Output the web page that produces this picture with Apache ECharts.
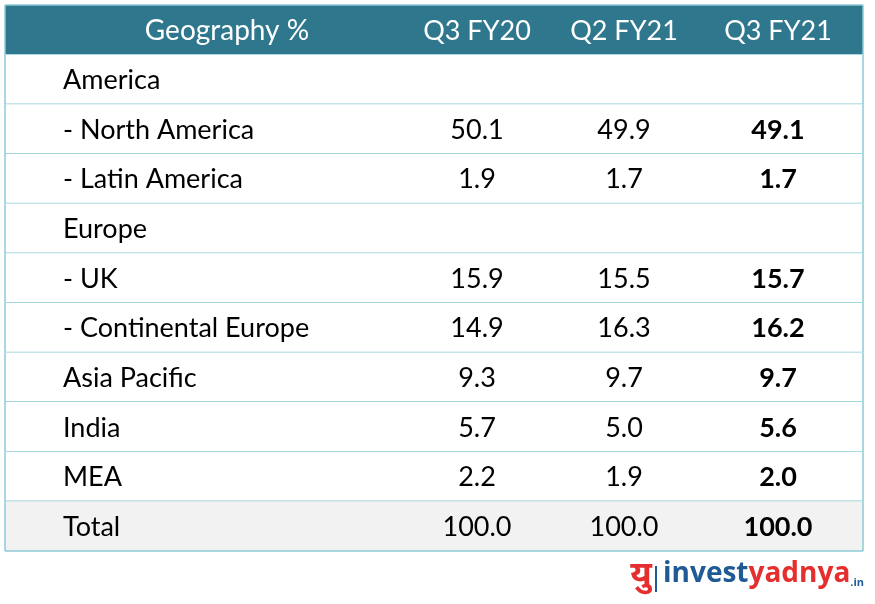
<!DOCTYPE html>
<html><head><meta charset="utf-8">
<script src="https://cdn.jsdelivr.net/npm/echarts@6/dist/echarts.min.js"></script>
<style>html,body{margin:0;padding:0;background:#fff}#c{width:875px;height:604px}</style>
</head><body><div id="c"></div>
<script>
var headers = ['Geography %', 'Q3 FY20', 'Q2 FY21', 'Q3 FY21'];
var rowLabels = ['America', '- North America', '- Latin America', 'Europe', '- UK', '- Continental Europe', 'Asia Pacific', 'India', 'MEA', 'Total'];
var q3fy20 = ['', '50.1', '1.9', '', '15.9', '14.9', '9.3', '5.7', '2.2', '100.0'];
var q2fy21 = ['', '49.9', '1.7', '', '15.5', '16.3', '9.7', '5.0', '1.9', '100.0'];
var q3fy21 = ['', '49.1', '1.7', '', '15.7', '16.2', '9.7', '5.6', '2.0', '100.0'];

var FONT = 'Lato';
var HEAD_BG = '#2F778C', LINE = '#8BCAD6', TOTAL_BG = '#F2F2F2';
var W = 858;
var colX = [222, 472, 619, 773];
var labelX = 58;

var cats = [headers[0]].concat(rowLabels);
var data = cats.map(function (c, i) { return [0, i]; });

var chart = echarts.init(document.getElementById('c'));
chart.setOption({
  animation: false,
  grid: { left: 5, right: 12, top: 5, bottom: 53 },
  xAxis: { type: 'value', min: 0, max: W, show: false },
  yAxis: { type: 'category', data: cats, inverse: true, show: false },
  series: [{
    type: 'custom',
    data: data,
    renderItem: function (params, api) {
      var i = api.value(1);
      var p0 = api.coord([0, i]);
      var h = api.size([0, 1])[1];
      var x0 = p0[0], yc = p0[1], top = yc - h / 2, bot = yc + h / 2;
      var x1 = api.coord([W, i])[0];
      var ch = [];
      var bg = i === 0 ? HEAD_BG : (i === cats.length - 1 ? TOTAL_BG : '#ffffff');
      ch.push({ type: 'rect', shape: { x: x0, y: top, width: x1 - x0, height: h }, style: { fill: bg } });
      ch.push({ type: 'line', shape: { x1: x0, y1: bot, x2: x1, y2: bot }, style: { stroke: LINE, lineWidth: 1.5 } });
      if (i === 0) ch.push({ type: 'line', shape: { x1: x0, y1: top, x2: x1, y2: top }, style: { stroke: LINE, lineWidth: 1.5 } });
      ch.push({ type: 'line', shape: { x1: x0, y1: top, x2: x0, y2: bot }, style: { stroke: LINE, lineWidth: 1.5 } });
      ch.push({ type: 'line', shape: { x1: x1, y1: top, x2: x1, y2: bot }, style: { stroke: LINE, lineWidth: 1.5 } });
      function txt(s, x, align, color, weight, size) {
        ch.push({ type: 'text', x: x, y: yc + 1, style: { text: s, fill: color, font: weight + ' ' + size + 'px ' + FONT, textAlign: align, textVerticalAlign: 'middle' } });
      }
      if (i === 0) {
        txt(headers[0], api.coord([colX[0], 0])[0], 'center', '#ffffff', 'normal', 28);
        for (var k = 1; k < 4; k++) txt(headers[k], api.coord([colX[k], 0])[0], 'center', '#ffffff', 'normal', 27);
      } else {
        var r = i - 1;
        txt(rowLabels[r], api.coord([labelX, 0])[0], 'left', '#000', 'normal', 27);
        txt(q3fy20[r], api.coord([colX[1], 0])[0], 'center', '#000', 'normal', 27);
        txt(q2fy21[r], api.coord([colX[2], 0])[0], 'center', '#000', 'normal', 27);
        txt(q3fy21[r], api.coord([colX[3], 0])[0], 'center', '#000', 'bold', 27);
      }
      return { type: 'group', children: ch };
    }
  }],
  graphic: [{
    type: 'text', x: 641, y: 575,
    style: { text: 'यु', fill: '#E52E2E', font: 'bold 34px "Noto Sans", sans-serif', textAlign: 'center', textVerticalAlign: 'middle' }
  }, {
    type: 'line', shape: { x1: 656, y1: 566, x2: 656, y2: 592 },
    style: { stroke: '#1F5A96', lineWidth: 2 }
  }, {
    type: 'text', x: 663, y: 560,
    style: {
      text: '{b|invest}{r|yadnya}{s|.in}',
      rich: {
        b: { fill: '#1F5A96', font: 'bold 28px "Open Sans", sans-serif' },
        r: { fill: '#E52E2E', font: 'bold 28px "Open Sans", sans-serif' },
        s: { fill: '#1F5A96', font: 'bold 11px "Open Sans", sans-serif', verticalAlign: 'bottom' }
      }
    }
  }]
});
</script></body></html>
